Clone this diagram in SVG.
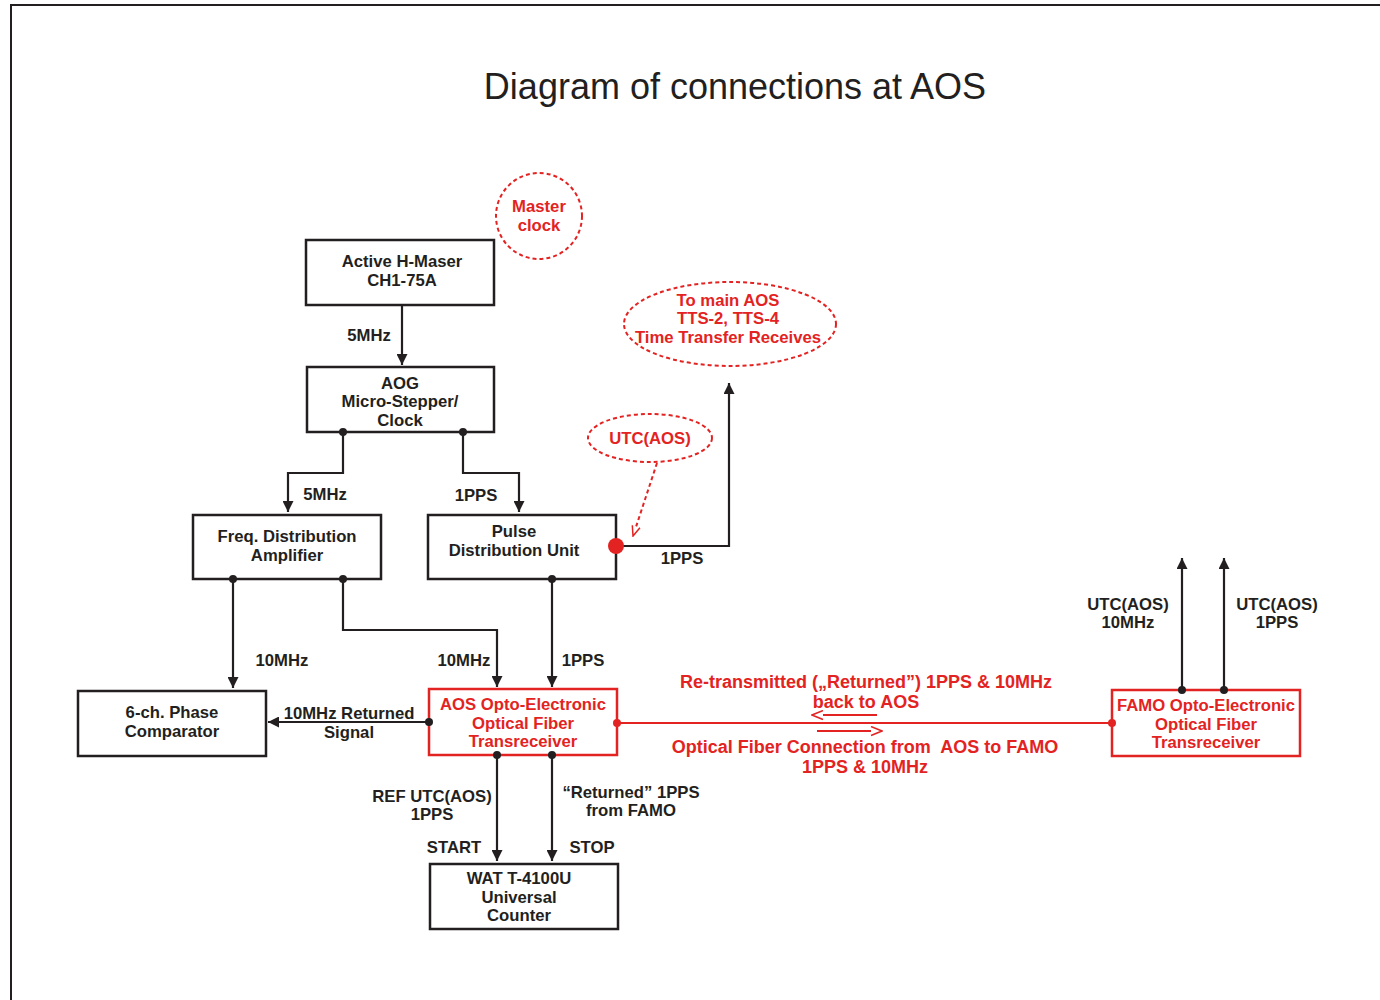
<svg xmlns="http://www.w3.org/2000/svg" width="1380" height="1000" viewBox="0 0 1380 1000">
<style>
.box{fill:#fff;stroke:#231f20;stroke-width:2.5}
.rbox{fill:#fff;stroke:#e32322;stroke-width:2.5}
.t{font-family:"Liberation Sans",Arial,sans-serif;font-weight:bold;font-size:16.7px;fill:#231f20;text-anchor:middle}
.big{font-size:18px}
.r{fill:#e32322}
.ln{fill:none;stroke:#231f20;stroke-width:2.2}
.rl{fill:none;stroke:#e32322;stroke-width:2.2}
.dash{fill:#fff;stroke:#e32322;stroke-width:2;stroke-dasharray:4 3}
</style>
<defs>
<marker id="ah" viewBox="0 0 10 10" refX="10" refY="5" markerWidth="5" markerHeight="5" orient="auto" markerUnits="strokeWidth"><path d="M0,0 L10,5 L0,10 Z" fill="#231f20"/></marker>
<marker id="ro" viewBox="0 0 12 10" refX="11" refY="5" markerWidth="6" markerHeight="5" orient="auto" markerUnits="strokeWidth"><path d="M1,1 L11,5 L1,9" fill="#fff" stroke="#e32322" stroke-width="1.5"/></marker>
</defs>
<rect width="1380" height="1000" fill="#fff"/>
<path d="M11,1000 V5 H1380" fill="none" stroke="#231f20" stroke-width="2"/>
<text x="735" y="99" font-family="'Liberation Sans',Arial,sans-serif" font-size="36" text-anchor="middle" fill="#231f20">Diagram of connections at AOS</text>

<g id="master-clock">
<circle class="dash" cx="539" cy="216" r="43"/>
<text class="t r" x="539" y="212">Master</text>
<text class="t r" x="539" y="231">clock</text>
</g>
<g id="to-main-aos">
<ellipse class="dash" cx="730" cy="324" rx="106" ry="42"/>
<text class="t r" x="728" y="306">To main AOS</text>
<text class="t r" x="728" y="324">TTS-2, TTS-4</text>
<text class="t r" x="728" y="343">Time Transfer Receives</text>
</g>
<g id="utc-aos">
<ellipse class="dash" cx="650" cy="438" rx="62" ry="24"/>
<text class="t r" x="650" y="444">UTC(AOS)</text>
</g>
<g id="h-maser">
<rect class="box" x="306" y="240" width="188" height="65"/>
<text class="t" x="402" y="267">Active H-Maser</text>
<text class="t" x="402" y="286">CH1-75A</text>
</g>
<g id="aog">
<rect class="box" x="307" y="367" width="187" height="65"/>
<text class="t" x="400" y="389">AOG</text>
<text class="t" x="400" y="407">Micro-Stepper/</text>
<text class="t" x="400" y="426">Clock</text>
</g>
<g id="freq-dist">
<rect class="box" x="193" y="515" width="188" height="64"/>
<text class="t" x="287" y="542">Freq. Distribution</text>
<text class="t" x="287" y="561">Amplifier</text>
</g>
<g id="pulse-dist">
<rect class="box" x="428" y="515" width="188" height="64"/>
<text class="t" x="514" y="537">Pulse</text>
<text class="t" x="514" y="556">Distribution Unit</text>
</g>
<g id="phase-comparator">
<rect class="box" x="78" y="691" width="188" height="65"/>
<text class="t" x="172" y="718">6-ch. Phase</text>
<text class="t" x="172" y="737">Comparator</text>
</g>
<g id="aos-opto">
<rect class="rbox" x="429" y="689" width="188" height="66"/>
<text class="t r" x="523" y="710">AOS Opto-Electronic</text>
<text class="t r" x="523" y="729">Optical Fiber</text>
<text class="t r" x="523" y="747">Transreceiver</text>
</g>
<g id="famo-opto">
<rect class="rbox" x="1112" y="690" width="188" height="66"/>
<text class="t r" x="1206" y="711">FAMO Opto-Electronic</text>
<text class="t r" x="1206" y="730">Optical Fiber</text>
<text class="t r" x="1206" y="748">Transreceiver</text>
</g>
<g id="counter">
<rect class="box" x="430" y="864" width="188" height="65"/>
<text class="t" x="519" y="884">WAT T-4100U</text>
<text class="t" x="519" y="903">Universal</text>
<text class="t" x="519" y="921">Counter</text>
</g>

<g id="connectors">
<path class="ln" d="M402,305 V365" marker-end="url(#ah)"/>
<path class="ln" d="M343,432 V473 H288 V512" marker-end="url(#ah)"/>
<path class="ln" d="M463,432 V473 H519 V512" marker-end="url(#ah)"/>
<path class="ln" d="M616,546 H729 V383" marker-end="url(#ah)"/>
<path class="ln" d="M233,579 V688" marker-end="url(#ah)"/>
<path class="ln" d="M343,579 V630 H497 V687" marker-end="url(#ah)"/>
<path class="ln" d="M552,579 V687" marker-end="url(#ah)"/>
<path class="ln" d="M429,722 H268" marker-end="url(#ah)"/>
<path class="ln" d="M497,755 V861" marker-end="url(#ah)"/>
<path class="ln" d="M552,755 V861" marker-end="url(#ah)"/>
<path class="ln" d="M1182,690 V558" marker-end="url(#ah)"/>
<path class="ln" d="M1224,690 V558" marker-end="url(#ah)"/>
<path class="rl" d="M617,723 H1112"/>
<path class="rl" d="M877,715 H812" stroke-width="2" marker-end="url(#ro)"/>
<path class="rl" d="M817,731 H882" stroke-width="2" marker-end="url(#ro)"/>
<path d="M657,463 L633,536" fill="none" stroke="#e32322" stroke-width="2" stroke-dasharray="4 3" marker-end="url(#ro)"/>
<g fill="#231f20">
<circle cx="343" cy="432" r="4"/><circle cx="463" cy="432" r="4"/>
<circle cx="233" cy="579" r="4"/><circle cx="343" cy="579" r="4"/><circle cx="552" cy="579" r="4"/>
<circle cx="429" cy="722" r="4"/><circle cx="497" cy="755" r="4"/><circle cx="552" cy="755" r="4"/>
<circle cx="1182" cy="690" r="4"/><circle cx="1224" cy="690" r="4"/>
</g>
<circle cx="617" cy="723" r="4" class="r"/><circle cx="1112" cy="723" r="4" class="r"/>
<circle cx="616" cy="546" r="8" class="r"/>
<text class="t" x="369" y="341">5MHz</text>
<text class="t" x="325" y="500">5MHz</text>
<text class="t" x="476" y="501">1PPS</text>
<text class="t" x="682" y="564">1PPS</text>
<text class="t" x="282" y="666">10MHz</text>
<text class="t" x="464" y="666">10MHz</text>
<text class="t" x="583" y="666">1PPS</text>
<text class="t" x="349" y="719">10MHz Returned</text>
<text class="t" x="349" y="738">Signal</text>
<text class="t" x="432" y="802">REF UTC(AOS)</text>
<text class="t" x="432" y="820">1PPS</text>
<text class="t" x="631" y="798">“Returned” 1PPS</text>
<text class="t" x="631" y="816">from FAMO</text>
<text class="t" x="454" y="853">START</text>
<text class="t" x="592" y="853">STOP</text>
<text class="t" x="1128" y="610">UTC(AOS)</text>
<text class="t" x="1128" y="628">10MHz</text>
<text class="t" x="1277" y="610">UTC(AOS)</text>
<text class="t" x="1277" y="628">1PPS</text>
<text class="t big r" x="866" y="688">Re-transmitted („Returned”) 1PPS &amp; 10MHz</text>
<text class="t big r" x="866" y="708">back to AOS</text>
<text class="t big r" x="865" y="753">Optical Fiber Connection from&#160; AOS to FAMO</text>
<text class="t big r" x="865" y="773">1PPS &amp; 10MHz</text>
</g>
</svg>
